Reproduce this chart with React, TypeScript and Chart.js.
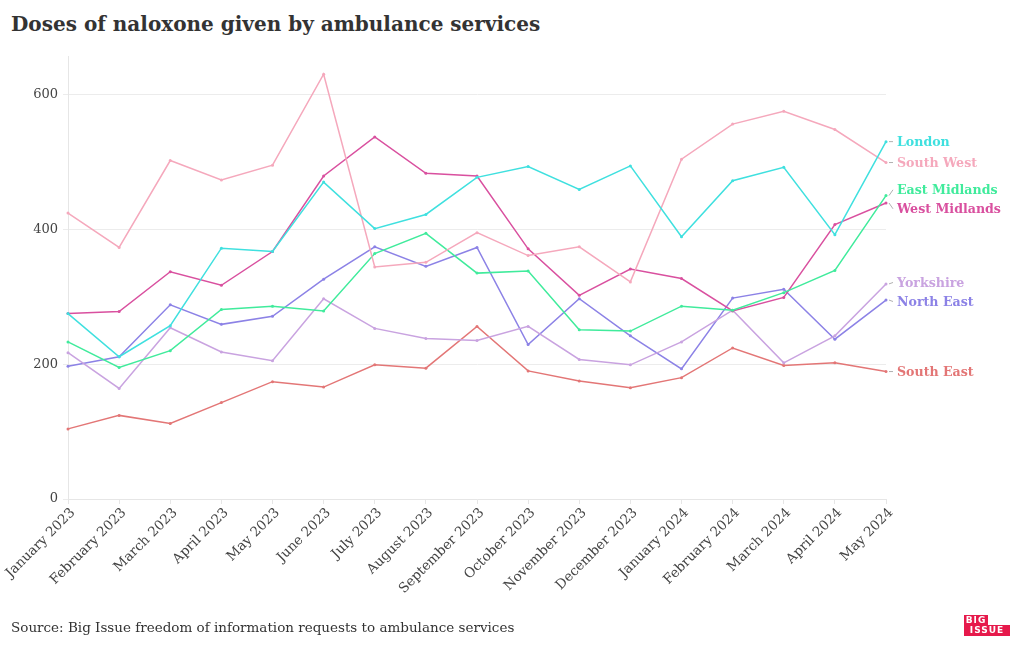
import React, { useEffect, useRef } from "react";
import { Chart, registerables } from "chart.js";

Chart.register(...registerables);

const months = [
  "January 2023", "February 2023", "March 2023", "April 2023", "May 2023", "June 2023",
  "July 2023", "August 2023", "September 2023", "October 2023", "November 2023", "December 2023",
  "January 2024", "February 2024", "March 2024", "April 2024", "May 2024",
];

const london = [275, 211, 257, 372, 367, 470, 401, 422, 477, 493, 459, 494, 389, 472, 492, 392, 530];
const southWest = [424, 373, 502, 473, 495, 630, 344, 351, 395, 361, 374, 322, 504, 556, 575, 548, 499];
const eastMidlands = [233, 195, 220, 281, 286, 279, 364, 394, 335, 338, 251, 249, 286, 280, 306, 339, 450];
const westMidlands = [275, 278, 337, 317, 367, 479, 537, 483, 479, 371, 302, 341, 327, 279, 299, 407, 439];
const yorkshire = [217, 164, 254, 218, 205, 297, 253, 238, 235, 256, 207, 199, 233, 280, 202, 242, 319];
const northEast = [197, 211, 288, 259, 271, 326, 374, 345, 373, 229, 297, 242, 193, 298, 311, 237, 295];
const southEast = [104, 124, 112, 143, 174, 166, 199, 194, 256, 190, 175, 165, 180, 224, 198, 202, 189];

const seriesNames = ["London", "South West", "East Midlands", "West Midlands", "Yorkshire", "North East", "South East"];
const seriesValues = [london, southWest, eastMidlands, westMidlands, yorkshire, northEast, southEast];
const seriesColors = ["#3fe0df", "#f5a8bc", "#40eb9c", "#d9509f", "#c9a3e0", "#8c82e6", "#e37676"];

const yTicks = [0, 200, 400, 600];

const SERIF = '"DejaVu Serif", serif';

const endLabels = {
  id: "endLabels",
  afterDatasetsDraw(chart: any) {
    const ctx = chart.ctx;
    const area = chart.chartArea;
    const gap = 19;
    const items = chart.data.datasets.map((ds: any, i: number) => {
      const meta = chart.getDatasetMeta(i);
      const p = meta.data[meta.data.length - 1];
      return { y: p.y, x: p.x, label: ds.label, color: ds.borderColor, ly: p.y };
    });
    items.sort((a: any, b: any) => a.y - b.y);
    let groups: any[] = [];
    for (const it of items) {
      groups.push({ items: [it], top: it.y });
      let merged = true;
      while (merged && groups.length > 1) {
        merged = false;
        const cur = groups[groups.length - 1];
        const prev = groups[groups.length - 2];
        if (prev.top + prev.items.length * gap > cur.top) {
          const all = prev.items.concat(cur.items);
          const mean = all.reduce((s: number, a: any) => s + a.y, 0) / all.length;
          const top = mean - ((all.length - 1) * gap) / 2;
          groups.splice(groups.length - 2, 2, { items: all, top });
          merged = true;
        }
      }
    }
    for (const g of groups) {
      g.items.forEach((it: any, k: number) => (it.ly = g.top + k * gap));
    }
    ctx.save();
    for (const it of items) {
      ctx.strokeStyle = "#b0b0b0";
      ctx.lineWidth = 1;
      ctx.beginPath();
      ctx.moveTo(area.right + 3, it.y);
      ctx.lineTo(area.right + 7, it.ly);
      ctx.stroke();
      ctx.fillStyle = it.color;
      ctx.font = `bold 12.6px ${SERIF}`;
      ctx.textBaseline = "middle";
      ctx.textAlign = "left";
      ctx.fillText(it.label, area.right + 11, it.ly + 1);
    }
    ctx.restore();
  },
};

export default function App() {
  const ref = useRef<HTMLCanvasElement>(null);
  useEffect(() => {
    if (!ref.current) return;
    const chart = new Chart(ref.current, {
      type: "line",
      data: {
        labels: months,
        datasets: seriesNames.map((name, i) => ({
          label: name,
          data: seriesValues[i],
          borderColor: seriesColors[i],
          backgroundColor: seriesColors[i],
          borderWidth: 1.5,
          pointRadius: 1.5,
          pointBorderWidth: 0,
          tension: 0,
        })),
      },
      options: {
        animation: false,
        responsive: false,
        maintainAspectRatio: false,
        layout: { padding: { top: 56, left: 8, right: 134, bottom: 11 } },
        plugins: { legend: { display: false }, tooltip: { enabled: false } },
        scales: {
          x: {
            grid: { drawOnChartArea: false, drawTicks: true, tickLength: 5, color: "#e6e6e6" },
            border: { color: "#e6e6e6" },
            ticks: {
              autoSkip: false,
              minRotation: 45,
              maxRotation: 45,
              padding: 1,
              labelOffset: 5,
              color: "#444",
              font: { family: SERIF, size: 13.5 },
            },
            afterFit(scale: any) {
              scale.height = 140;
              scale.paddingLeft = 0;
              scale.paddingRight = 0;
            },
          },
          y: {
            min: 0,
            max: 657,
            afterBuildTicks(scale: any) {
              scale.ticks = yTicks.map((v) => ({ value: v }));
            },
            grid: { color: "#ececec", tickLength: 5 },
            border: { color: "#e6e6e6" },
            ticks: {
              padding: 5,
              color: "#444",
              font: { family: SERIF, size: 13 },
            },
            afterFit(scale: any) {
              scale.width = 60;
            },
          },
        },
      },
      plugins: [endLabels],
    });
    return () => chart.destroy();
  }, []);

  const box: React.CSSProperties = {
    display: "block", background: "#e6194b", color: "#fff",
    fontSize: 9, fontWeight: "bold", lineHeight: "10px", textAlign: "center", boxSizing: "border-box",
    letterSpacing: 1,
  };

  return (
    <div style={{ position: "fixed", left: 0, top: 0, width: 1020, height: 650, background: "#fff", overflow: "hidden" }}>
      <div
        style={{
          position: "absolute", left: 11, top: 12, fontFamily: SERIF, fontWeight: "bold",
          fontSize: 20, lineHeight: "24px", color: "#333", whiteSpace: "nowrap",
        }}
      >
        Doses of naloxone given by ambulance services
      </div>
      <canvas ref={ref} width={1020} height={650} style={{ position: "absolute", left: 0, top: 0 }} />
      <div
        style={{
          position: "absolute", left: 11, top: 618, fontFamily: SERIF, fontSize: 13.5,
          lineHeight: "18px", color: "#333", whiteSpace: "nowrap",
        }}
      >
        Source: Big Issue freedom of information requests to ambulance services
      </div>
      <div style={{ position: "absolute", left: 964, top: 615, fontFamily: '"DejaVu Sans", sans-serif' }}>
        <div style={{ ...box, width: 24, height: 10 }}>BIG</div>
        <div style={{ ...box, width: 46, height: 11, marginTop: 0 }}>ISSUE</div>
      </div>
    </div>
  );
}
